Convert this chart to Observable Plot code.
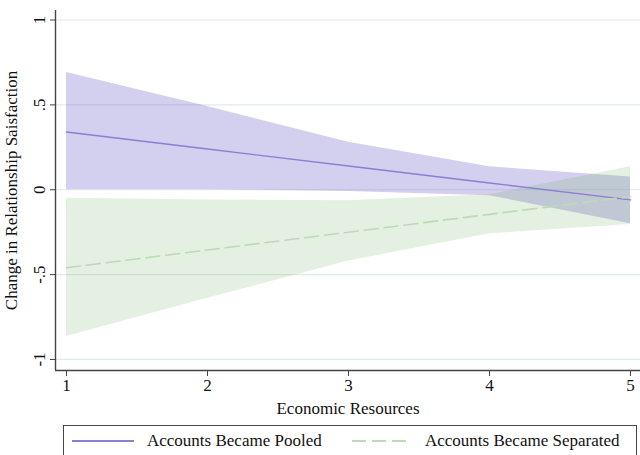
<!DOCTYPE html>
<html>
<head>
<meta charset="utf-8">
<script src="https://cdn.jsdelivr.net/npm/d3@7"></script>
<script src="https://cdn.jsdelivr.net/npm/@observablehq/plot@0.6"></script>
<style>
  html, body { margin: 0; padding: 0; background: #fff; }
  #wrap { position: relative; width: 640px; height: 455px; overflow: hidden; font-family: "Liberation Serif", "Times New Roman", serif; }
  #legend { position: absolute; left: 63px; top: 425px; width: 574px; height: 40px; border: 1px solid #444; box-sizing: border-box; font-size: 17px; color: #111; }
  #legend .item { position: absolute; top: 5px; display: flex; align-items: center; }
  #legend svg { display: block; }
</style>
</head>
<body>
<div id="wrap">
  <div id="chart"></div>
  <div id="legend"></div>
</div>
<script>
// ---- data ----
const resources = [1, 2, 3, 4, 5];
const pooledEst   = [0.34, 0.24, 0.14, 0.04, -0.06];
const pooledLo    = [0.00, 0.00, -0.01, -0.035, -0.20];
const pooledHi    = [0.69, 0.49, 0.28, 0.135, 0.075];
const separatedEst = [-0.46, -0.355, -0.25, -0.145, -0.04];
const separatedLo  = [-0.865, -0.64, -0.42, -0.26, -0.205];
const separatedHi  = [-0.05, -0.06, -0.065, -0.03, 0.135];
const yTicks = [-1, -0.5, 0, 0.5, 1];
const yTickLabels = ["-1", "-.5", "0", ".5", "1"];
const xTicks = [1, 2, 3, 4, 5];
const xTickLabels = ["1", "2", "3", "4", "5"];
const seriesNames = ["Accounts Became Pooled", "Accounts Became Separated"];

const purpleLine = "#8a7fd2";
const purpleFill = "#6c5fc8";
const greenLine = "#bcdab7";
const greenFill = "#77b46a";

const pooled = resources.map((x, i) => ({x, est: pooledEst[i], lo: pooledLo[i], hi: pooledHi[i]}));
const separated = resources.map((x, i) => ({x, est: separatedEst[i], lo: separatedLo[i], hi: separatedHi[i]}));

const FS = 17;
const chart = Plot.plot({
  width: 640,
  height: 420,
  marginLeft: 55,
  marginRight: 0,
  marginTop: 10,
  marginBottom: 50,
  style: {fontFamily: "'Liberation Serif', 'Times New Roman', serif", fontSize: FS + "px", color: "#111", background: "#fff"},
  x: {domain: [0.922, 5.071]},
  y: {domain: [-1.065, 1.056]},
  marks: [
    Plot.gridY(yTicks, {stroke: "#dfeaec", strokeOpacity: 1, strokeWidth: 1.2}),
    Plot.areaY(pooled, {x: "x", y1: "lo", y2: "hi", fill: purpleFill, fillOpacity: 0.3}),
    Plot.areaY(separated, {x: "x", y1: "lo", y2: "hi", fill: greenFill, fillOpacity: 0.2}),
    Plot.line(pooled, {x: "x", y: "est", stroke: purpleLine, strokeWidth: 1.4}),
    Plot.line(separated, {x: "x", y: "est", stroke: greenLine, strokeWidth: 1.6, strokeDasharray: "14,6"}),
    Plot.axisY(yTicks, {
      tickFormat: (d) => yTickLabels[yTicks.indexOf(d)],
      tickRotate: -90, tickSize: 5, tickPadding: 6, fontSize: FS,
      stroke: "#444", fill: "#111",
      label: "Change in Relationship Saisfaction", labelAnchor: "center", labelArrow: "none", labelOffset: 51
    }),
    Plot.axisX(xTicks, {
      tickFormat: (d) => xTickLabels[xTicks.indexOf(d)],
      tickSize: 6, tickPadding: 2, fontSize: FS, stroke: "#444", fill: "#111",
      label: "Economic Resources", labelAnchor: "center", labelArrow: "none", labelOffset: 43
    }),
    Plot.ruleX([0.922], {y1: -1.065, y2: 1.056, stroke: "#444", strokeWidth: 1.4}),
    Plot.ruleY([-1.065], {stroke: "#444", strokeWidth: 1.4})
  ]
});
document.getElementById("chart").appendChild(chart);

// legend
const legend = document.getElementById("legend");
const items = [
  {name: seriesNames[0], color: purpleLine, dash: null, left: 8, lineW: 62, gap: 13},
  {name: seriesNames[1], color: greenLine, dash: "14,6", left: 288, lineW: 58, gap: 15}
];
items.forEach(it => {
  const div = document.createElement("div");
  div.className = "item";
  div.style.left = it.left + "px";
  const svg = d3.create("svg").attr("width", it.lineW).attr("height", 20);
  svg.append("line").attr("x1", 0).attr("x2", it.lineW).attr("y1", 10).attr("y2", 10)
    .attr("stroke", it.color).attr("stroke-width", 1.8)
    .attr("stroke-dasharray", it.dash);
  div.appendChild(svg.node());
  const span = document.createElement("span");
  span.textContent = it.name;
  span.style.marginLeft = it.gap + "px";
  div.appendChild(span);
  legend.appendChild(div);
});
</script>
</body>
</html>
